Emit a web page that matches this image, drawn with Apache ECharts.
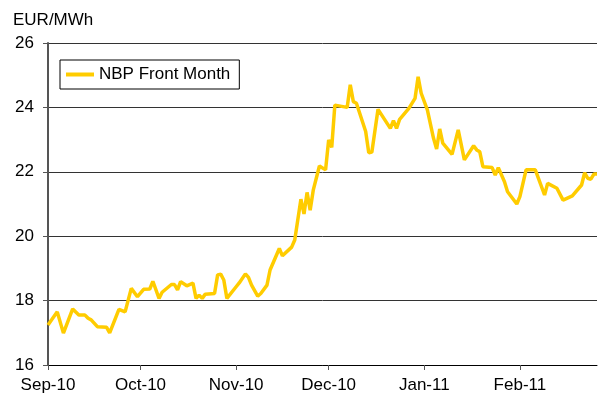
<!DOCTYPE html>
<html>
<head>
<meta charset="utf-8">
<script src="https://cdn.jsdelivr.net/npm/echarts@6/dist/echarts.min.js"></script>
<style>
  html, body { margin: 0; padding: 0; background: #fff; }
  #main { width: 598px; height: 400px; }
</style>
</head>
<body>
<div id="main"></div>
<script>
// NBP front month, EUR/MWh
const dates = [
  '2010-09-01','2010-09-04','2010-09-06','2010-09-09','2010-09-11','2010-09-13','2010-09-14','2010-09-15',
  '2010-09-17','2010-09-20','2010-09-21','2010-09-24','2010-09-26','2010-09-28','2010-09-30',
  '2010-10-02','2010-10-04','2010-10-05','2010-10-07','2010-10-08','2010-10-11','2010-10-12','2010-10-13',
  '2010-10-14','2010-10-16','2010-10-18','2010-10-19','2010-10-20','2010-10-21','2010-10-22','2010-10-25',
  '2010-10-26','2010-10-27','2010-10-28','2010-10-29',
  '2010-11-01','2010-11-02','2010-11-04','2010-11-05','2010-11-06','2010-11-08','2010-11-09','2010-11-11',
  '2010-11-12','2010-11-15','2010-11-16','2010-11-19','2010-11-20','2010-11-22','2010-11-23','2010-11-24',
  '2010-11-25','2010-11-26','2010-11-28','2010-11-30',
  '2010-12-01','2010-12-02','2010-12-03','2010-12-07','2010-12-08','2010-12-09','2010-12-10','2010-12-13',
  '2010-12-14','2010-12-15','2010-12-17','2010-12-21','2010-12-22','2010-12-23','2010-12-24','2010-12-27',
  '2010-12-29','2010-12-30','2010-12-31',
  '2011-01-02','2011-01-04','2011-01-05','2011-01-06','2011-01-07','2011-01-10','2011-01-12','2011-01-14',
  '2011-01-17','2011-01-18','2011-01-19','2011-01-20','2011-01-23','2011-01-24','2011-01-25','2011-01-27',
  '2011-01-28','2011-01-31',
  '2011-02-01','2011-02-03','2011-02-06','2011-02-09','2011-02-10','2011-02-13','2011-02-15','2011-02-18',
  '2011-02-21','2011-02-22','2011-02-23','2011-02-24','2011-02-25','2011-02-26'
]
const prices = [
  17.24,17.65,16.99,17.74,17.55,17.55,17.45,17.40,
  17.19,17.17,17.00,17.73,17.65,18.38,18.12,
  18.35,18.36,18.60,18.07,18.26,18.50,18.50,18.33,
  18.59,18.46,18.54,18.07,18.17,18.07,18.20,18.22,
  18.80,18.82,18.64,18.07,
  18.43,18.55,18.83,18.72,18.48,18.14,18.22,18.48,
  18.95,19.62,19.39,19.66,19.88,21.15,20.69,21.36,
  20.81,21.43,22.18,22.06,
  22.99,22.76,24.07,24.00,24.70,24.18,24.13,23.25,
  22.59,22.61,23.94,23.35,23.59,23.35,23.63,23.97,
  24.28,24.95,24.44,
  23.92,23.04,22.71,23.33,22.89,22.54,23.30,22.37,
  22.81,22.68,22.62,22.16,22.13,21.90,22.13,21.69,
  21.38,21.00,
  21.23,22.06,22.06,21.28,21.64,21.49,21.12,21.25,
  21.59,21.97,21.80,21.77,21.93,21.93
]
const seriesName = 'NBP Front Month'
const monthNames = ['Jan','Feb','Mar','Apr','May','Jun','Jul','Aug','Sep','Oct','Nov','Dec']

let chart = echarts.init(document.getElementById('main'))

function getOption() {
  return {
    animation: false,
    textStyle: { fontFamily: 'Liberation Sans, Arial, sans-serif' },
    grid: { left: 48, right: 1, top: 43, bottom: 35 },
    legend: {
      left: 60, top: 60,
      padding: [6, 9, 6, 6],
      borderColor: '#000', borderWidth: 1,
      itemWidth: 28, itemHeight: 4, itemGap: 4,
      icon: 'rect',
      textStyle: { fontSize: 17, color: '#000' },
      data: [seriesName]
    },
    xAxis: {
      type: 'time',
      min: '2010-09-01',
      max: '2011-02-26',
      splitNumber: 6,
      axisLine: { lineStyle: { color: '#000', width: 1 } },
      axisTick: { show: true, length: 5, lineStyle: { color: '#555' } },
      splitLine: { show: false },
      axisLabel: {
        fontSize: 17, color: '#000', margin: 12,
        formatter: function (val) {
          const d = new Date(val)
          return monthNames[d.getMonth()] + '-' + String(d.getFullYear()).slice(2)
        }
      }
    },
    yAxis: {
      type: 'value',
      min: 16, max: 26, interval: 2,
      name: 'EUR/MWh',
      nameLocation: 'end',
      nameGap: 14,
      nameTextStyle: { fontSize: 17, color: '#000', align: 'left', padding: [0, 0, 0, -35] },
      axisLine: { show: true, lineStyle: { color: '#555', width: 2 } },
      axisTick: { show: true, length: 5, lineStyle: { color: '#555' } },
      axisLabel: { fontSize: 17, color: '#000', margin: 14 },
      splitLine: { lineStyle: { color: '#333', width: 1 } }
    },
    series: [{
      name: seriesName,
      type: 'line',
      data: dates.map((d, i) => [d, prices[i]]),
      showSymbol: false,
      lineStyle: { color: '#FFCC00', width: 3.5 },
      itemStyle: { color: '#FFCC00' }
    }]
  }
}

chart.setOption(getOption())
</script>
</body>
</html>
